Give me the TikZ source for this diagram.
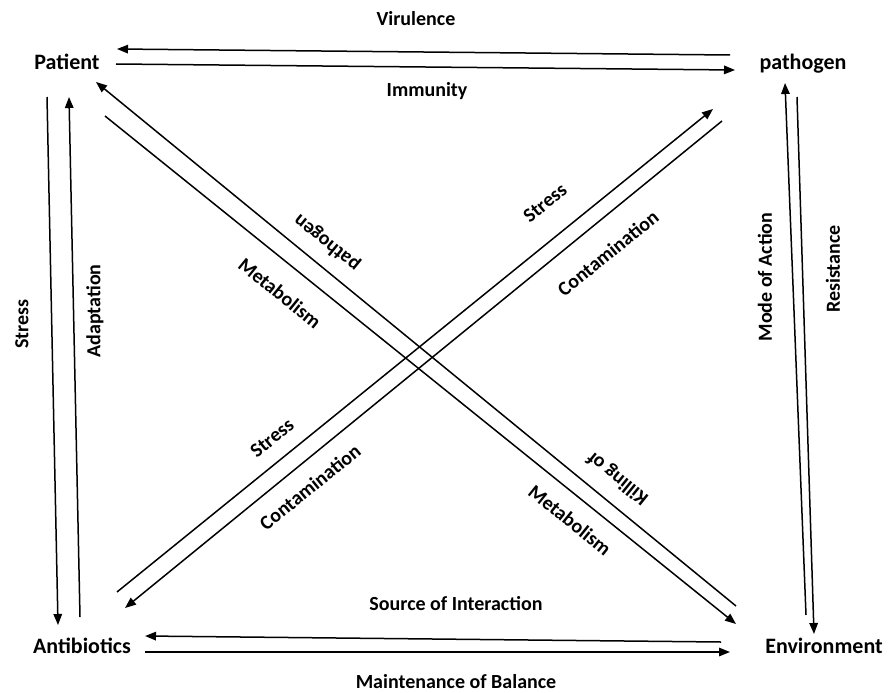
\documentclass[tikz,border=0pt]{standalone}
\usepackage{fontspec}
\setmainfont{Carlito}
\usetikzlibrary{arrows.meta}
\begin{document}
\begin{tikzpicture}[x=1pt,y=-1pt,
  conn/.style={line width=1.5pt,-{Triangle[length=11pt,width=8.5pt]}},
  ent/.style={font=\fontsize{22}{26}\selectfont\bfseries,inner sep=0pt,anchor=base},
  lab/.style={font=\fontsize{20}{24}\selectfont\bfseries,inner sep=0pt},
  labb/.style={lab,anchor=base}]
\useasboundingbox (0,0) rectangle (891,693);
% entities
\node[ent] (pat) at (67,70) {Patient};
\node[ent] (pth) at (803,70) {pathogen};
\node[ent] (ant) at (82,653) {Antibiotics};
\node[ent] (env) at (824,653) {Environment};
% endpoints
\coordinate (virS) at (730,55);  \coordinate (virE) at (117,49);
\coordinate (immS) at (116,64);  \coordinate (immE) at (735,70);
\coordinate (srcS) at (721,642); \coordinate (srcE) at (145,636);
\coordinate (mntS) at (145,652); \coordinate (mntE) at (730,652);
\coordinate (strS) at (47,97);   \coordinate (strE) at (58,625);
\coordinate (adpS) at (80,617);  \coordinate (adpE) at (69,97);
\coordinate (moaS) at (806,615); \coordinate (moaE) at (785,83);
\coordinate (resS) at (797,97);  \coordinate (resE) at (814,634);
\coordinate (kilS) at (736,606); \coordinate (kilE) at (96,82);
\coordinate (metS) at (105,116); \coordinate (metE) at (736,624);
\coordinate (stdS) at (117,592); \coordinate (stdE) at (713,109);
\coordinate (conS) at (722,121); \coordinate (conE) at (125,608);
% connectors
\draw[conn] (virS) -- (virE);
\draw[conn] (immS) -- (immE);
\draw[conn] (srcS) -- (srcE);
\draw[conn] (mntS) -- (mntE);
\draw[conn] (strS) -- (strE);
\draw[conn] (adpS) -- (adpE);
\draw[conn] (moaS) -- (moaE);
\draw[conn] (resS) -- (resE);
\draw[conn] (kilS) -- (kilE);
\draw[conn] (metS) -- (metE);
\draw[conn] (stdS) -- (stdE);
\draw[conn] (conS) -- (conE);
% labels
\node[labb] (lvir) at (416,26) {Virulence};
\node[labb] (limm) at (427,96) {Immunity};
\node[labb] (lsrc) at (456,610) {Source of Interaction};
\node[labb] (lmnt) at (456,688) {Maintenance of Balance};
\node[lab,rotate=90] (lstr) at (22,324) {Stress};
\node[lab,rotate=90] (ladp) at (95,311) {Adaptation};
\node[lab,rotate=90] (lmoa) at (765,277) {Mode of Action};
\node[lab,rotate=90] (lres) at (833,269) {Resistance};
\node[lab,rotate=141] (lpth) at (327,243) {pathogen};
\node[lab,rotate=141] (lkil) at (618,478) {Killing of};
\node[lab,rotate=-39] (lmet1) at (280,293) {Metabolism};
\node[lab,rotate=-39] (lmet2) at (570,520) {Metabolism};
\node[lab,rotate=39] (lst1) at (545,203) {Stress};
\node[lab,rotate=39] (lco1) at (608,253) {Contamination};
\node[lab,rotate=39] (lst2) at (272,438) {Stress};
\node[lab,rotate=39] (lco2) at (310,487) {Contamination};
\end{tikzpicture}
\end{document}
